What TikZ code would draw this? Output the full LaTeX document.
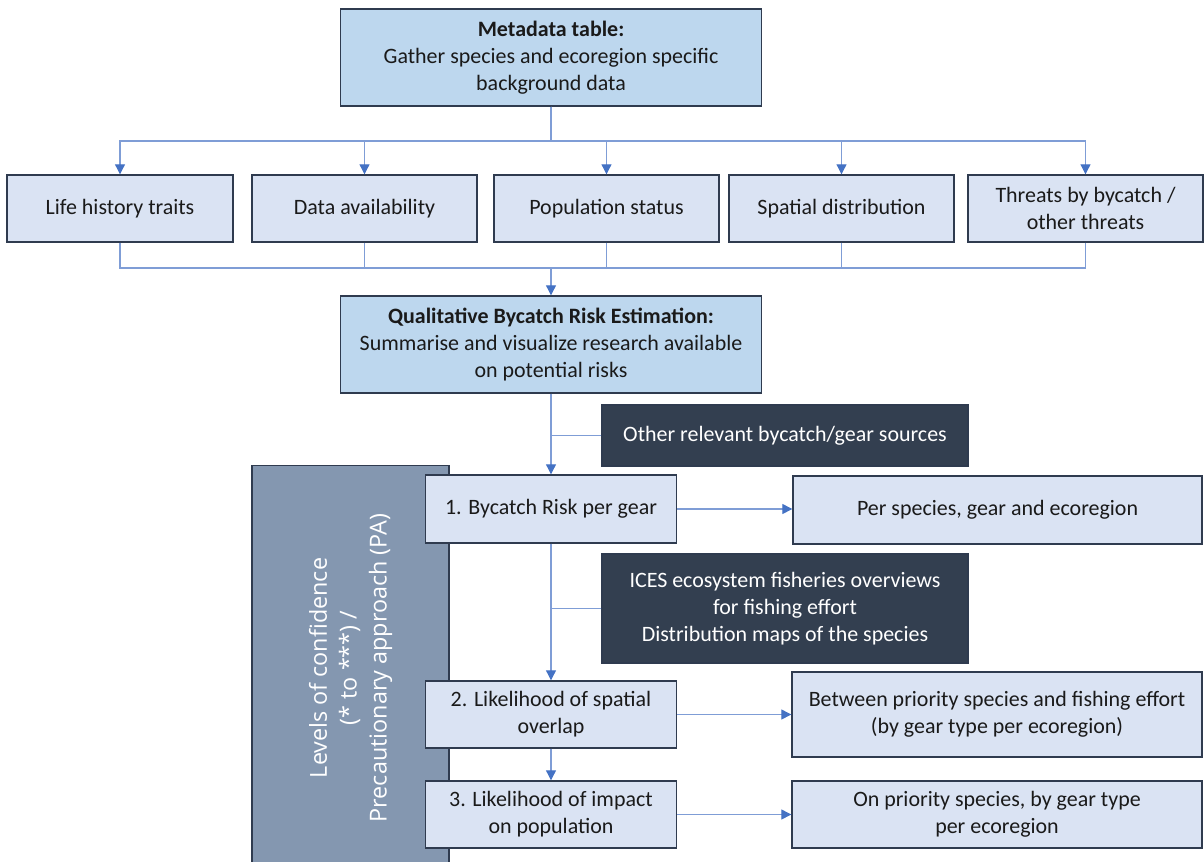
\documentclass[tikz,border=0pt]{standalone}
\usepackage{fontspec}
\setmainfont{Carlito}
\newfontfamily\conffont{Open Sans}
\usetikzlibrary{arrows.meta}
\definecolor{headfill}{HTML}{BDD7EE}
\definecolor{boxfill}{HTML}{DAE3F3}
\definecolor{boxline}{HTML}{2F3B4F}
\definecolor{darkfill}{HTML}{333F50}
\definecolor{greyfill}{HTML}{8497B0}
\definecolor{linkblue}{HTML}{7F9DD6}
\definecolor{tipblue}{HTML}{4472C4}
\definecolor{ink}{HTML}{1A1A1A}
\begin{document}
\begin{tikzpicture}[x=0.02cm,y=-0.02cm,
    font=\fontsize{12.5}{15.3}\selectfont,
    head/.style={draw=boxline,fill=headfill,line width=0.8pt,align=center,text=ink,
        minimum width=8.42cm,minimum height=1.94cm,inner sep=0pt},
    box/.style={draw=boxline,fill=boxfill,line width=0.8pt,align=center,text=ink,
        minimum height=1.34cm,inner sep=0pt},
    dark/.style={draw=boxline,fill=darkfill,text=white,line width=0.8pt,align=center,
        minimum width=7.32cm,inner sep=0pt},
    link/.style={draw=linkblue,line width=0.6pt},
    arr/.style={link,-{Triangle[length=0.2cm,width=0.2cm,fill=tipblue,color=tipblue]}}]
    \useasboundingbox (0,0) rectangle (1204,862);
    % top of the scheme
    \node[head] (meta) at (551,57.5) {\textbf{Metadata table:}\\Gather species and ecoregion specific\\background data};
    \node[box, minimum width=4.52cm] (life) at (120,208.5) {Life history traits};
    \node[box, minimum width=4.50cm] (data) at (364.5,208.5) {Data availability};
    \node[box, minimum width=4.50cm] (popu) at (606.5,208.5) {Population status};
    \node[box, minimum width=4.50cm] (spat) at (841.5,208.5) {Spatial distribution};
    \node[box, minimum width=4.70cm] (thre) at (1085.5,208.5) {Threats by bycatch /\\other threats};
    \node[head] (qual) at (551,344.5) {\textbf{Qualitative Bycatch Risk Estimation:}\\Summarise and visualize research available\\on potential risks};
    % confidence bar on the left
    \node[draw=boxline,fill=greyfill,line width=0.8pt,rotate=90,minimum width=8.1cm,minimum height=3.94cm,
        text=white,align=center,font=\conffont\fontsize{13.3}{17}\selectfont] (conf) at (350.5,668)
        {Levels of confidence\\(* to ***) /\\Precautionary approach (PA)};
    % steps
    \node[dark, minimum height=1.22cm] (other) at (785,435.5) {Other relevant bycatch/gear sources};
    \node[box, minimum width=5.02cm, minimum height=1.36cm] (risk) at (551,509) {1. Bycatch Risk per gear};
    \node[box, minimum width=8.18cm, minimum height=1.36cm] (perspec) at (997.5,510) {Per species, gear and ecoregion};
    \node[dark, minimum height=2.18cm] (ices) at (785,608.5) {ICES ecosystem fisheries overviews\\for fishing effort\\Distribution maps of the species};
    \node[box, minimum width=5.02cm] (overlap) at (551,714.5) {2. Likelihood of spatial\\overlap};
    \node[box, minimum width=8.20cm, minimum height=1.70cm] (between) at (997,714.5) {Between priority species and fishing effort\\(by gear type per ecoregion)};
    \node[box, minimum width=5.02cm] (impact) at (551,814.5) {3. Likelihood of impact\\on population};
    \node[box, minimum width=8.20cm] (onprio) at (997,814.5) {On priority species, by gear type\\per ecoregion};
    % connectors
    \coordinate (topbus) at (551,141);
    \coordinate (botbus) at (551,268);
    \foreach \n in {life,data,popu,spat,thre}
        \draw[arr] (meta.south) -- (topbus) -| (\n.north);
    \foreach \n in {life,data,popu,spat,thre}
        \draw[link] (\n.south) |- (botbus);
    \draw[arr] (botbus) -- (qual.north);
    \draw[arr] (qual.south) -- (risk.north);
    \draw[link] (other.west) -- (other.west -| qual.south);
    \draw[arr] (risk.east) -- (risk.east -| perspec.west);
    \draw[arr] (risk.south) -- (overlap.north);
    \draw[link] (ices.west) -- (ices.west -| risk.south);
    \draw[arr] (overlap.east) -- (overlap.east -| between.west);
    \draw[arr] (overlap.south) -- (impact.north);
    \draw[arr] (impact.east) -- (impact.east -| onprio.west);
\end{tikzpicture}
\end{document}
